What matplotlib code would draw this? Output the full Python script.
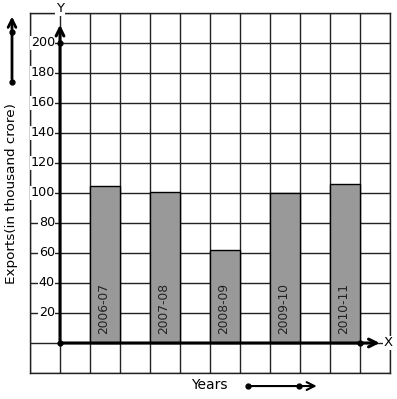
import matplotlib.pyplot as plt
import numpy as np

# données
years = ['2006-07', '2007-08', '2008-09', '2009-10', '2010-11']
exports = [105, 101, 62, 100, 106]
bar_pos = [1.5, 3.5, 5.5, 7.5, 9.5]
y_ticks = [20, 40, 60, 80, 100, 120, 140, 160, 180, 200]

W, H = 397, 399
fig = plt.figure(figsize=(W / 100, H / 100), dpi=100)
ax = fig.add_axes([30 / W, (H - 373) / H, 360 / W, 360 / H])
ax.set_xlim(-1, 11)
ax.set_ylim(-20, 220)

# quadrillage
ax.set_xticks(np.arange(-1, 12, 1))
ax.set_yticks(np.arange(-20, 221, 20))
ax.grid(True, color='#222222', lw=1)
ax.tick_params(length=0, labelbottom=False, labelleft=False)
for s in ax.spines.values():
    s.set_color('#222222')
    s.set_linewidth(1)
ax.set_axisbelow(True)

# barres
ax.bar(bar_pos, exports, width=1, color='#999999', edgecolor='black', lw=1, zorder=3)
for x, lab in zip(bar_pos, years):
    ax.text(x - 0.05, 6, lab, rotation=90, ha='center', va='bottom', fontsize=8.8,
            color='#222222', zorder=4)

# étiquettes de l'axe Y
for v in y_ticks:
    ax.text(-0.17, v, str(v), ha='right', va='center', fontsize=9.2,
            bbox=dict(facecolor='white', edgecolor='none', pad=0.3), zorder=4)

# axes épais avec flèches
ax.annotate('', xy=(0, 214), xytext=(0, 0),
            arrowprops=dict(arrowstyle='->', lw=2.2, color='black', mutation_scale=14),
            zorder=5, annotation_clip=False)
ax.annotate('', xy=(10.75, 0), xytext=(0, 0),
            arrowprops=dict(arrowstyle='->', lw=2.2, color='black', mutation_scale=14),
            zorder=5, annotation_clip=False)
ax.plot([0, 0, 10], [0, 200, 0], 'o', color='black', ms=3.5, zorder=6, clip_on=False)
ax.text(0, 223, 'Y', ha='center', va='center', fontsize=9.5,
        bbox=dict(facecolor='white', edgecolor='none', pad=0.5), zorder=6, clip_on=False)
ax.text(10.93, 0, 'X', ha='center', va='center', fontsize=9.5,
        bbox=dict(facecolor='white', edgecolor='none', pad=0.3), zorder=6, clip_on=False)

# titre de l'axe Y et flèche à gauche
ax.text(-1.6, 100, 'Exports(in thousand crore)', rotation=90, ha='center', va='center',
        fontsize=9.7, clip_on=False)
ax.annotate('', xy=(-1.6, 219.5), xytext=(-1.6, 174),
            arrowprops=dict(arrowstyle='->', lw=2, color='black', mutation_scale=14),
            annotation_clip=False)
ax.plot([-1.6, -1.6], [174, 207.3], 'o', color='black', ms=3.5, clip_on=False)

# titre de l'axe X et flèche en bas
ax.text(4.97, -28.3, 'Years', ha='center', va='center', fontsize=10, clip_on=False)
ax.annotate('', xy=(8.65, -28.7), xytext=(6.27, -28.7),
            arrowprops=dict(arrowstyle='->', lw=1.5, color='black', mutation_scale=14),
            annotation_clip=False)
ax.plot([6.27, 7.97], [-28.7, -28.7], 'o', color='black', ms=3.5, clip_on=False)

fig.savefig('out.png', dpi=100)
